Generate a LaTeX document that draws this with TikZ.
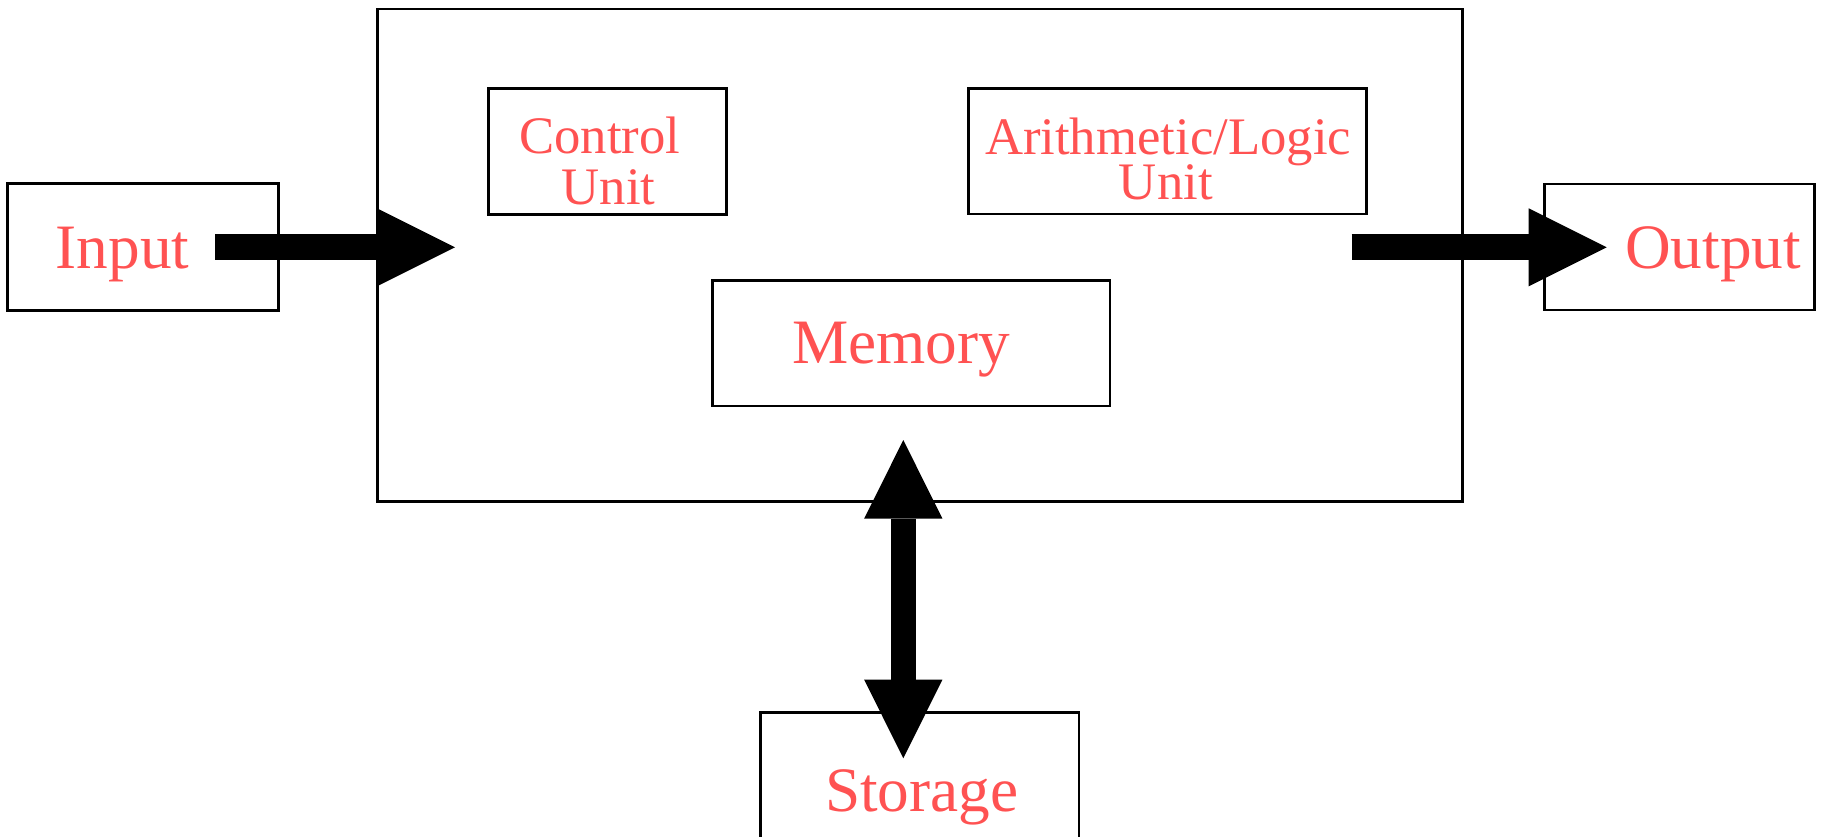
\documentclass[tikz,border=0pt]{standalone}
\usepackage{fontspec}
\setmainfont{Liberation Serif}
\usetikzlibrary{arrows.meta}
\definecolor{txtred}{RGB}{255,82,82}
\begin{document}
\begin{tikzpicture}[x=0.02cm,y=-0.02cm,
  box/.style={draw=black,line width=1.6pt,inner sep=0pt,fill=none},
  bigtxt/.style={text=txtred,inner sep=0pt,anchor=base,font=\fontsize{36}{36}\selectfont},
  smalltxt/.style={text=txtred,inner sep=0pt,anchor=base,font=\fontsize{30}{30}\selectfont},
  harrow/.style={line width=14.6pt,-{Triangle[length=44.4pt,width=44.4pt,line width=0pt]}},
  darrow/.style={line width=14.4pt,{Triangle[length=44.8pt,width=44.6pt,line width=0pt]}-{Triangle[length=44.8pt,width=44.6pt,line width=0pt]}}
]
\clip (0,0) rectangle (1821,836);
\fill[white] (0,0) rectangle (1821,836);
% boxes
\node[box,minimum width=5.42cm,minimum height=2.548cm] (input) at (142.8,247) {};
\node[box,minimum width=21.714cm,minimum height=9.854cm] (cpu) at (919.85,255.35) {};
\node[box,minimum width=4.768cm,minimum height=2.52cm] (ctrl) at (607.5,151.3) {};
\node[box,minimum width=7.968cm,minimum height=2.514cm] (alu) at (1167.5,151.2) {};
\node[box,minimum width=7.954cm,minimum height=2.506cm] (mem) at (911.2,343.3) {};
\node[box,minimum width=5.4cm,minimum height=2.52cm] (output) at (1679.3,247) {};
\node[box,minimum width=6.366cm,minimum height=2.52cm] (storage) at (919.85,775.3) {};
% texts
\node[bigtxt] (inputT) at (122.5,268.3) {Input};
\node[bigtxt] (outputT) at (1713,268.3) {Output};
\node[bigtxt] (memT) at (901,363.3) {Memory};
\node[bigtxt] (storT) at (921.7,811.7) {Storage};
\node[smalltxt] (ctrlT1) at (600,153.3) {Control};
\node[smalltxt] (ctrlT2) at (608.5,204.3) {Unit};
\node[smalltxt] (aluT1) at (1168,154) {Arithmetic/Logic};
\node[smalltxt] (aluT2) at (1165.8,199.5) {Unit};
% arrow end points
\coordinate (inS) at (215,247.3);
\coordinate (inE) at (455,247.3);
\coordinate (outS) at (1351.7,247.3);
\coordinate (outE) at (1606.7,247.3);
\coordinate (memS) at (903.3,440);
\coordinate (storE) at (903.3,758.3);
% arrows
\draw[harrow] (inS) -- (inE);
\draw[harrow] (outS) -- (outE);
\draw[darrow] (memS) -- (storE);
\end{tikzpicture}
\end{document}
